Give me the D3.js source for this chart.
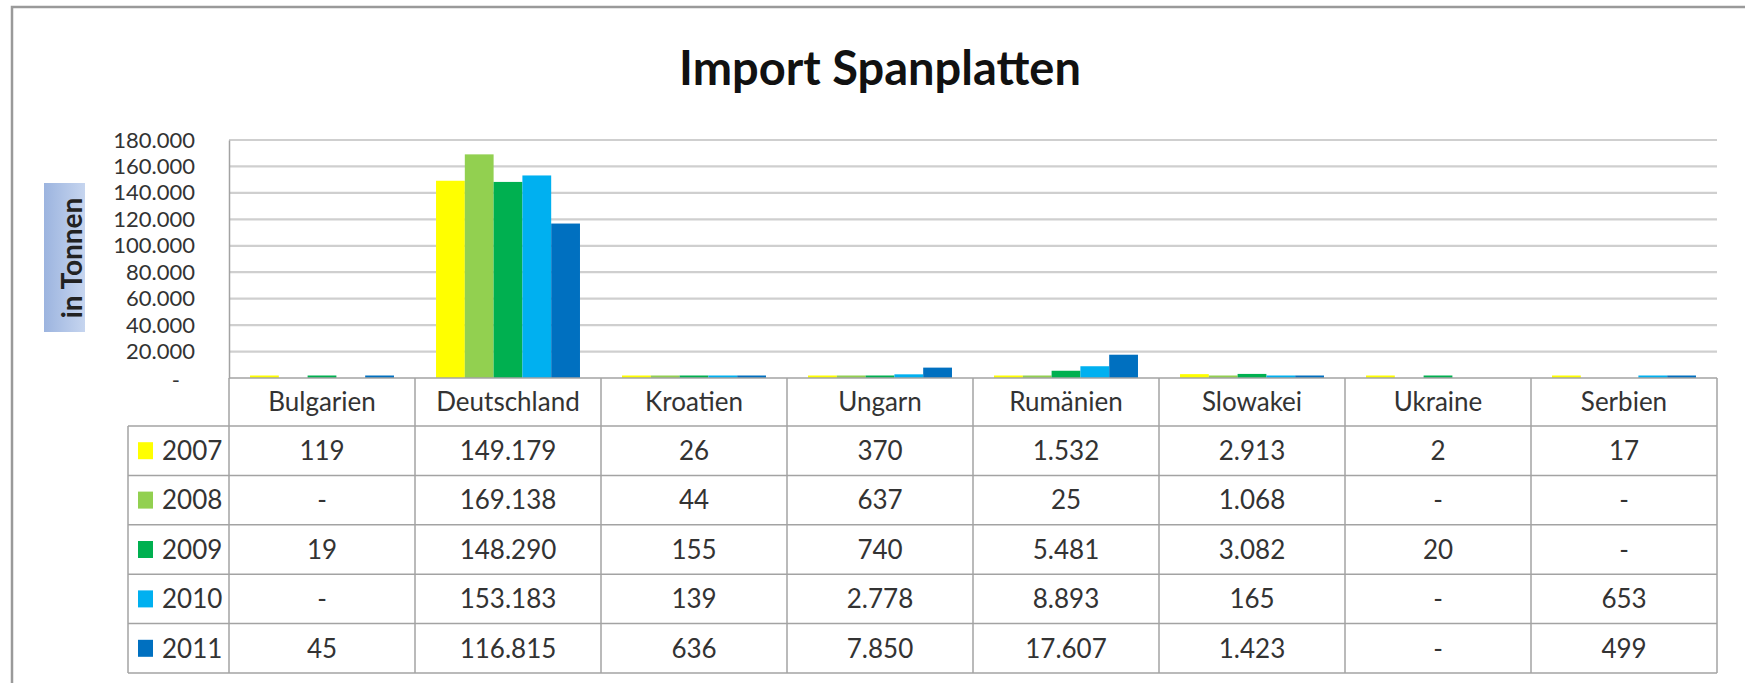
<!DOCTYPE html>
<html>
<head>
<meta charset="utf-8">
<script src="https://cdn.jsdelivr.net/npm/d3@7"></script>
<style>
  body { margin: 0; background: #fff; }
  svg { display: block; font-family: Lato, "Open Sans", sans-serif; }
</style>
</head>
<body>
<div class="graph-container"></div>
<script>
// chart data (null = "-" in the table)
var countries = ['Bulgarien', 'Deutschland', 'Kroatien', 'Ungarn', 'Rumänien', 'Slowakei', 'Ukraine', 'Serbien'];
var years = ['2007', '2008', '2009', '2010', '2011'];
var yearColors = ['#ffff00', '#92d050', '#00b050', '#00b0f0', '#0070c0'];

var values2007 = [119, 149179, 26, 370, 1532, 2913, 2, 17];
var values2008 = [null, 169138, 44, 637, 25, 1068, null, null];
var values2009 = [19, 148290, 155, 740, 5481, 3082, 20, null];
var values2010 = [null, 153183, 139, 2778, 8893, 165, null, 653];
var values2011 = [45, 116815, 636, 7850, 17607, 1423, null, 499];
var seriesValues = [values2007, values2008, values2009, values2010, values2011];

var yTicks = [0, 20000, 40000, 60000, 80000, 100000, 120000, 140000, 160000, 180000];

var svgWidth = 1745;
var svgHeight = 683;
var plotLeft = 229;
var plotRight = 1717;
var plotTop = 140;
var plotBottom = 378;
var headerHeight = 48;
var rowHeight = 49.4;
var legendColLeft = 128;
var lineColor = '#a3a3a3';
var tableFont = 26;

// german number format: 149.179
var de = d3.formatLocale({ decimal: ',', thousands: '.', grouping: [3], currency: ['', ' €'] });
var fmt = de.format(',.0f');

var svg = d3.select('.graph-container').append('svg')
  .attr('width', svgWidth)
  .attr('height', svgHeight);

// outer chart frame (cut off at right and bottom)
svg.append('rect')
  .attr('x', 12)
  .attr('y', 7)
  .attr('width', svgWidth)
  .attr('height', svgHeight)
  .attr('fill', 'none')
  .attr('stroke', '#9a9a9a')
  .attr('stroke-width', 2.5);

// title
svg.append('text')
  .attr('x', 880)
  .attr('y', 85)
  .attr('text-anchor', 'middle')
  .attr('font-weight', 'bold')
  .attr('font-size', 47)
  .attr('fill', '#111')
  .text('Import Spanplatten');

// scales
var xScale = d3.scaleBand()
  .domain(countries)
  .range([plotLeft, plotRight]);

var xInner = d3.scaleBand()
  .domain(years)
  .range([0, xScale.bandwidth()])
  .paddingOuter(0.73);

var yScale = d3.scaleLinear()
  .domain([0, 180000])
  .range([plotBottom, plotTop]);

// gridlines
svg.append('g')
  .selectAll('line')
  .data(yTicks.slice(1))
  .enter()
  .append('line')
  .attr('x1', plotLeft)
  .attr('x2', plotRight)
  .attr('y1', function(d) { return yScale(d); })
  .attr('y2', function(d) { return yScale(d); })
  .attr('stroke', '#cfcfcf')
  .attr('stroke-width', 2.2);

// y axis with labels, zero shown as "-"
var yAxis = d3.axisLeft(yScale)
  .tickValues(yTicks)
  .tickSize(0)
  .tickPadding(34)
  .tickFormat(function(d) { return d === 0 ? '-' : fmt(d); });

var yAxisG = svg.append('g')
  .attr('transform', 'translate(' + plotLeft + ',0)')
  .call(yAxis);

yAxisG.select('.domain')
  .attr('stroke', lineColor)
  .attr('stroke-width', 1.5);

yAxisG.selectAll('text')
  .attr('font-family', 'Lato, sans-serif')
  .attr('font-size', 22)
  .attr('fill', '#333');

yAxisG.selectAll('.tick')
  .filter(function(d) { return d === 0; })
  .select('text')
  .attr('dx', -15)
  .attr('dy', '0.45em');

// y axis title with blue box
var titleBox = svg.append('defs').append('linearGradient')
  .attr('id', 'boxGrad')
  .attr('x1', 0).attr('x2', 1).attr('y1', 0).attr('y2', 0);
titleBox.append('stop').attr('offset', 0).attr('stop-color', '#9cb4df');
titleBox.append('stop').attr('offset', 1).attr('stop-color', '#c6d5ef');

svg.append('rect')
  .attr('x', 44)
  .attr('y', 183)
  .attr('width', 41)
  .attr('height', 149)
  .attr('fill', 'url(#boxGrad)');

svg.append('text')
  .attr('transform', 'translate(82,258) rotate(-90)')
  .attr('text-anchor', 'middle')
  .attr('font-weight', 'bold')
  .attr('font-size', 28)
  .attr('fill', '#222')
  .text('in Tonnen');

// bars
var barData = [];
seriesValues.forEach(function(vals, i) {
  vals.forEach(function(v, j) {
    if (v !== null) {
      barData.push({ year: years[i], country: countries[j], value: v, color: yearColors[i] });
    }
  });
});

svg.append('g')
  .selectAll('rect')
  .data(barData)
  .enter()
  .append('rect')
  .attr('x', function(d) { return xScale(d.country) + xInner(d.year); })
  .attr('width', xInner.bandwidth())
  .attr('y', function(d) { return Math.min(yScale(d.value), plotBottom - 2.5); })
  .attr('height', function(d) { return Math.max(plotBottom - yScale(d.value), 2.5); })
  .attr('fill', function(d) { return d.color; });

// data table under the chart
var table = svg.append('g');
var tableBottom = plotBottom + headerHeight + rowHeight * years.length;

// header row top line (x axis)
table.append('line')
  .attr('x1', plotLeft).attr('x2', plotRight)
  .attr('y1', plotBottom).attr('y2', plotBottom)
  .attr('stroke', lineColor).attr('stroke-width', 1.5);

// horizontal row lines
var rowLines = d3.range(years.length + 1).map(function(i) {
  return plotBottom + headerHeight + i * rowHeight;
});
table.selectAll('.row-line')
  .data(rowLines)
  .enter()
  .append('line')
  .attr('class', 'row-line')
  .attr('x1', legendColLeft).attr('x2', plotRight)
  .attr('y1', function(d) { return d; })
  .attr('y2', function(d) { return d; })
  .attr('stroke', lineColor).attr('stroke-width', 1.5);

// vertical column lines
var colLines = countries.map(function(c) { return xScale(c); }).concat([plotRight]);
table.selectAll('.col-line')
  .data(colLines)
  .enter()
  .append('line')
  .attr('class', 'col-line')
  .attr('x1', function(d) { return d; })
  .attr('x2', function(d) { return d; })
  .attr('y1', plotBottom)
  .attr('y2', tableBottom)
  .attr('stroke', lineColor).attr('stroke-width', 1.5);

table.append('line')
  .attr('x1', legendColLeft).attr('x2', legendColLeft)
  .attr('y1', plotBottom + headerHeight).attr('y2', tableBottom)
  .attr('stroke', lineColor).attr('stroke-width', 1.5);

// country headers
table.selectAll('.header')
  .data(countries)
  .enter()
  .append('text')
  .attr('class', 'header')
  .attr('x', function(d) { return xScale(d) + xScale.bandwidth() / 2; })
  .attr('y', plotBottom + headerHeight / 2)
  .attr('dy', '0.35em')
  .attr('text-anchor', 'middle')
  .attr('font-size', tableFont)
  .attr('fill', '#333')
  .text(function(d) { return d; });

// legend column: swatch + year, then the values of that year
years.forEach(function(year, i) {
  var rowMid = plotBottom + headerHeight + i * rowHeight + rowHeight / 2;
  table.append('rect')
    .attr('x', 138)
    .attr('y', rowMid - 8.5)
    .attr('width', 15)
    .attr('height', 17)
    .attr('fill', yearColors[i]);
  table.append('text')
    .attr('x', 162)
    .attr('y', rowMid)
    .attr('dy', '0.36em')
    .attr('font-size', tableFont)
    .attr('fill', '#333')
    .text(year);

  table.selectAll('.val-' + year)
    .data(seriesValues[i])
    .enter()
    .append('text')
    .attr('class', 'val-' + year)
    .attr('x', function(d, j) { return xScale(countries[j]) + xScale.bandwidth() / 2; })
    .attr('y', rowMid)
    .attr('dy', '0.36em')
    .attr('text-anchor', 'middle')
    .attr('font-size', tableFont)
    .attr('fill', '#333')
    .text(function(d) { return d === null ? '-' : fmt(d); });
});
</script>
</body>
</html>
